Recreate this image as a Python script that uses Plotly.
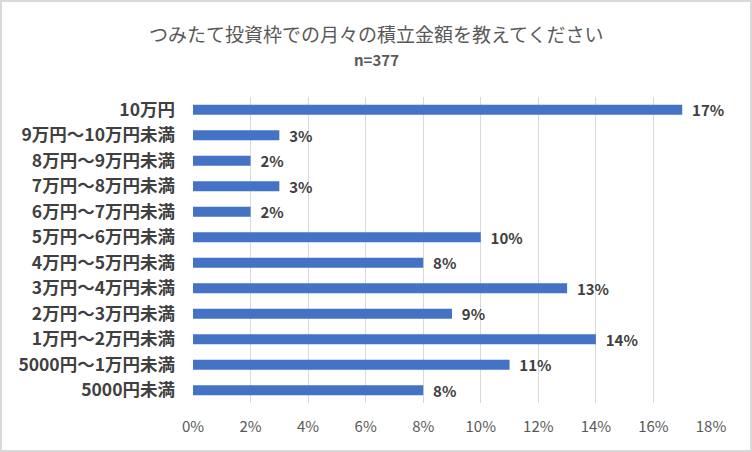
import plotly.graph_objects as go

categories = ["10万円", "9万円～10万円未満", "8万円～9万円未満", "7万円～8万円未満",
              "6万円～7万円未満", "5万円～6万円未満", "4万円～5万円未満", "3万円～4万円未満",
              "2万円～3万円未満", "1万円～2万円未満", "5000円～1万円未満", "5000円未満"]
values = [17, 3, 2, 3, 2, 10, 8, 13, 9, 14, 11, 8]
tick_vals = [0, 2, 4, 6, 8, 10, 12, 14, 16, 18]
tick_text = [f"{v}%" for v in tick_vals]

font = "Noto Sans CJK JP"

fig = go.Figure(go.Bar(
    y=categories, x=values, orientation="h",
    marker=dict(color="#4472C4", line=dict(width=0)),
    text=[f"\u00a0\u00a0{v}%" for v in values],
    textposition="outside", cliponaxis=False, constraintext="none",
    textfont=dict(family=font, size=15, color="#404040", weight="bold"),
))

fig.update_layout(
    width=752, height=452,
    margin=dict(l=193, r=41, t=97, b=49),
    paper_bgcolor="white", plot_bgcolor="white",
    bargap=0.6, showlegend=False,
    font=dict(family=font, color="#595959"),
    xaxis=dict(range=[0, 18], tickvals=tick_vals, ticktext=tick_text,
               showgrid=True, gridcolor="#d9d9d9", gridwidth=1,
               zeroline=False, showline=False,
               tickfont=dict(size=15, color="#595959"), ticks="", ticklabelstandoff=13),
    yaxis=dict(categoryorder="array", categoryarray=categories[::-1],
               tickfont=dict(size=17.5, color="#404040", weight="bold"),
               ticks="", ticklabelstandoff=17, showline=False),
)

fig.add_annotation(text="つみたて投資枠での月々の積立金額を教えてください",
                   xref="paper", yref="paper", x=(376 - 193) / 518, y=1 + (97 - 33) / 306,
                   showarrow=False, font=dict(size=19, color="#595959", family=font),
                   xanchor="center", yanchor="middle")
fig.add_annotation(text="<b>n=377</b>",
                   xref="paper", yref="paper", x=(376 - 193) / 518, y=1 + (97 - 59) / 306,
                   showarrow=False, font=dict(size=15, color="#595959", family=font),
                   xanchor="center", yanchor="middle")
fig.add_shape(type="rect", xref="paper", yref="paper",
              x0=-192 / 518, x1=1 + 40 / 518, y0=-48 / 306, y1=1 + 96 / 306,
              line=dict(color="#d9d9d9", width=2), fillcolor="rgba(0,0,0,0)")

fig.write_html("out.html", config={"displayModeBar": False},
               post_script="document.body.style.margin='0';document.body.style.overflow='hidden';")
